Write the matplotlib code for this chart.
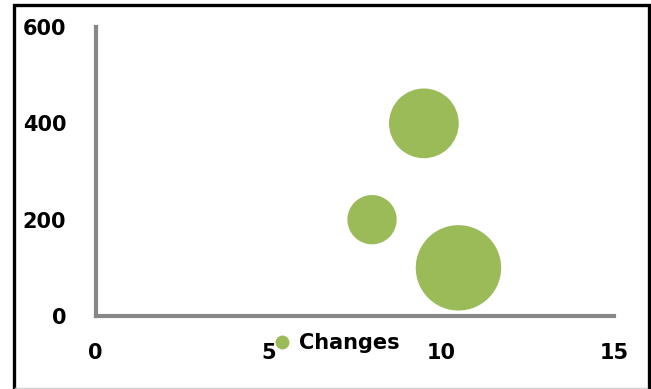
import matplotlib
matplotlib.use("Agg")
import matplotlib.pyplot as plt
from matplotlib.lines import Line2D
from matplotlib.patches import Rectangle

# Bubble series
series_name = "Changes"
x_values = [8.0, 9.5, 10.5]
y_values = [200, 400, 100]
bubble_sizes = [10, 20, 30]

x_ticks = [0, 5, 10, 15]
y_ticks = [0, 200, 400, 600]

W, H = 651, 389
GREEN = "#9BBB59"
AXIS_GRAY = "#878787"
AREA_PER_UNIT = 126.0  # marker area (pt^2) per unit of bubble size
FONT_SIZE = 15

plt.rcParams["font.family"] = ["DejaVu Sans"]
plt.rcParams["font.weight"] = "bold"

fig = plt.figure(figsize=(W / 100, H / 100), dpi=100)
fig.patch.set_facecolor("white")

# plot area in pixel coordinates
left_px, right_px, top_px, bottom_px = 95.5, 614, 27, 316
ax = fig.add_axes([left_px / W, 1 - bottom_px / H,
                   (right_px - left_px) / W, (bottom_px - top_px) / H])
ax.set_xlim(0, 15)
ax.set_ylim(0, 600)
ax.set_facecolor("none")

ax.scatter(x_values, y_values, s=[b * AREA_PER_UNIT for b in bubble_sizes],
           color=GREEN, edgecolors="none", zorder=3, clip_on=False)

for side in ("top", "right"):
    ax.spines[side].set_visible(False)
for side in ("left", "bottom"):
    ax.spines[side].set_color(AXIS_GRAY)
    ax.spines[side].set_linewidth(3.0)
    ax.spines[side].set_capstyle("projecting")

ax.set_xticks(x_ticks)
ax.set_yticks(y_ticks)
ax.set_xticklabels([str(t) for t in x_ticks])
ax.set_yticklabels([str(t) for t in y_ticks])
ax.tick_params(axis="both", length=0, labelsize=FONT_SIZE, labelcolor="black")
ax.tick_params(axis="y", pad=21)
ax.tick_params(axis="x", pad=19.5)
for lbl in ax.get_xticklabels() + ax.get_yticklabels():
    lbl.set_fontweight("bold")

handle = Line2D([], [], linestyle="none", marker="o", markersize=10,
                markerfacecolor=GREEN, markeredgecolor="none")
fig.legend([handle], [series_name], loc="center left",
           bbox_to_anchor=(274 / W, 1 - 343 / H), frameon=False,
           handlelength=0.75, handletextpad=0.45, borderpad=0, borderaxespad=0,
           prop={"size": FONT_SIZE, "weight": "bold"})

# frame around the chart
fig.patches.append(Rectangle((13.5 / W, -0.05), (648.5 - 13.5) / W, 1.05 - 4.5 / H,
                             transform=fig.transFigure, fill=False,
                             edgecolor="black", linewidth=2.4))
fig.add_artist(Line2D([15 / W, 647 / W], [1 - 387.5 / H, 1 - 387.5 / H],
                      transform=fig.transFigure, color="#d0d0d0", linewidth=1))

fig.savefig("out.png", dpi=100)
